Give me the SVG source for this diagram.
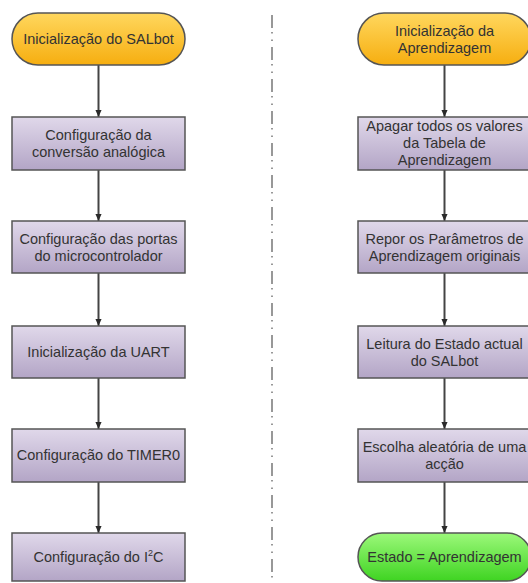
<svg xmlns="http://www.w3.org/2000/svg" width="528" height="583" viewBox="0 0 528 583">
<defs>
<linearGradient id="gOr" x1="0" y1="0" x2="0" y2="1"><stop offset="0" stop-color="#FFD75E"/><stop offset="1" stop-color="#F6AE10"/></linearGradient>
<linearGradient id="gPu" x1="0" y1="0" x2="0" y2="1"><stop offset="0" stop-color="#E0D8EA"/><stop offset="1" stop-color="#B3A5C6"/></linearGradient>
<linearGradient id="gGr" x1="0" y1="0" x2="0" y2="1"><stop offset="0" stop-color="#9CF87A"/><stop offset="1" stop-color="#3FD422"/></linearGradient>
<marker id="ah" viewBox="0 0 8 8" refX="8" refY="4" markerWidth="7" markerHeight="7" markerUnits="userSpaceOnUse" orient="auto"><path d="M0,0.5 L8,4 L0,7.5 Z" fill="#2a2a2a"/></marker>
</defs>
<style>
.box{fill:url(#gPu);stroke:#555;stroke-width:1.5}
.term{fill:url(#gOr);stroke:#555;stroke-width:1.5}
.green{fill:url(#gGr);stroke:#555;stroke-width:1.5}
text{font-family:"Liberation Sans",Arial,sans-serif;font-size:14.5px;fill:#333;text-anchor:middle}
.conn line{stroke:#444;stroke-width:2;marker-end:url(#ah)}
.sep{stroke:#777;stroke-width:1.5;stroke-dasharray:13 4 1.5 6 1.5 6}
</style>
<rect width="528" height="583" fill="#fff"/>
<line class="sep" x1="272" y1="15" x2="272" y2="583"/>
<g class="conn">
<line x1="98.5" y1="65" x2="98.5" y2="117"/>
<line x1="98.5" y1="170" x2="98.5" y2="221"/>
<line x1="98.5" y1="273" x2="98.5" y2="326"/>
<line x1="98.5" y1="378" x2="98.5" y2="429"/>
<line x1="98.5" y1="482" x2="98.5" y2="533"/>
<line x1="444.5" y1="65" x2="444.5" y2="117"/>
<line x1="444.5" y1="170" x2="444.5" y2="221"/>
<line x1="444.5" y1="273" x2="444.5" y2="326"/>
<line x1="444.5" y1="378" x2="444.5" y2="429"/>
<line x1="444.5" y1="482" x2="444.5" y2="533"/>
</g>
<g id="n1"><rect class="term" x="12" y="13" width="173" height="52" rx="26"/><text x="98.5" y="44">Inicialização do SALbot</text></g>
<g id="n2"><rect class="box" x="12" y="117" width="173" height="53"/><text x="98.5" y="140">Configuração da</text><text x="98.5" y="157">conversão analógica</text></g>
<g id="n3"><rect class="box" x="12" y="221" width="173" height="52"/><text x="98.5" y="244">Configuração das portas</text><text x="98.5" y="261">do microcontrolador</text></g>
<g id="n4"><rect class="box" x="12" y="326" width="173" height="52"/><text x="98.5" y="357">Inicialização da UART</text></g>
<g id="n5"><rect class="box" x="12" y="429" width="173" height="53"/><text x="98.5" y="460">Configuração do TIMER0</text></g>
<g id="n6"><rect class="box" x="12" y="533" width="173" height="48"/><text x="98.5" y="562">Configuração do I<tspan font-size="9" dy="-6">2</tspan><tspan dy="6">C</tspan></text></g>
<g id="m1"><rect class="term" x="358" y="13" width="173" height="52" rx="26"/><text x="444.5" y="36">Inicialização da</text><text x="444.5" y="53">Aprendizagem</text></g>
<g id="m2"><rect class="box" x="358" y="117" width="173" height="53"/><text x="444.5" y="131">Apagar todos os valores</text><text x="444.5" y="148">da Tabela de</text><text x="444.5" y="165">Aprendizagem</text></g>
<g id="m3"><rect class="box" x="358" y="221" width="173" height="52"/><text x="444.5" y="244">Repor os Parâmetros de</text><text x="444.5" y="261">Aprendizagem originais</text></g>
<g id="m4"><rect class="box" x="358" y="326" width="173" height="52"/><text x="444.5" y="349">Leitura do Estado actual</text><text x="444.5" y="366">do SALbot</text></g>
<g id="m5"><rect class="box" x="358" y="429" width="173" height="53"/><text x="444.5" y="452">Escolha aleatória de uma</text><text x="444.5" y="469">acção</text></g>
<g id="m6"><rect class="green" x="358" y="533" width="173" height="48" rx="24"/><text x="444.5" y="562">Estado = Aprendizagem</text></g>
</svg>
